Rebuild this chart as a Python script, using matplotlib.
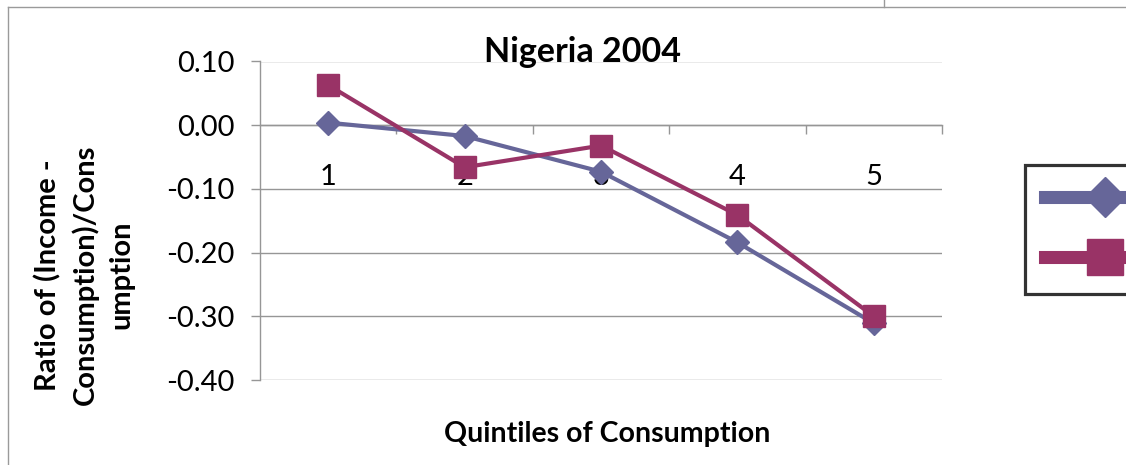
import matplotlib
matplotlib.use("Agg")
import matplotlib.pyplot as plt
from matplotlib.lines import Line2D
from matplotlib.ticker import FixedLocator

plt.rcParams['font.family'] = ['Lato', 'DejaVu Sans']

quintiles = [1, 2, 3, 4, 5]
series1 = [0.004, -0.017, -0.073, -0.184, -0.311]
series2 = [0.063, -0.066, -0.032, -0.141, -0.300]
series_names = ["Series1", "Series2"]
yticks = [0.10, 0.00, -0.10, -0.20, -0.30, -0.40]

blue = '#666699'
red = '#993366'
grid_c = '#969696'

W, H = 1126, 465
fig = plt.figure(figsize=(W / 100, H / 100), dpi=100)
ax = fig.add_axes([260 / W, 1 - 380 / H, (942 - 260) / W, (380 - 61.5) / H])

ax.plot(quintiles, series1, color=blue, lw=3.0, marker='D', ms=12.5,
        markeredgecolor=blue, markerfacecolor=blue, zorder=3)
ax.plot(quintiles, series2, color=red, lw=3.0, marker='s', ms=16.5,
        markeredgecolor=red, markerfacecolor=red, zorder=4)

ax.set_xlim(0.5, 5.5)
ax.set_ylim(-0.40, 0.10)
ax.set_yticks(yticks)
ax.set_yticklabels([f"{v:.2f}" for v in yticks])
ax.yaxis.grid(True, color=grid_c, lw=1.0)
ax.set_axisbelow(True)

for s in ['top', 'right']:
    ax.spines[s].set_visible(False)
ax.spines['left'].set_color(grid_c)
ax.spines['left'].set_linewidth(1.0)
ax.spines['bottom'].set_position(('data', 0))
ax.spines['bottom'].set_color(grid_c)
ax.spines['bottom'].set_linewidth(1.0)

ax.set_xticks(quintiles)
ax.set_xticklabels([str(q) for q in quintiles])
ax.xaxis.set_minor_locator(FixedLocator([1.5, 2.5, 3.5, 4.5, 5.5]))
ax.tick_params(axis='x', which='major', length=0, pad=28, labelsize=21)
ax.tick_params(axis='x', which='minor', length=6.5, width=1.0, color=grid_c, direction='out')
ax.tick_params(axis='y', length=6.5, width=1.0, color=grid_c, pad=12, labelsize=21)

fig.text(582 / W, 1 - 61.7 / H, "Nigeria 2004", ha='center', va='baseline',
         fontsize=24.5, fontweight='bold')
fig.text(607 / W, 1 - 442 / H, "Quintiles of Consumption", ha='center', va='baseline',
         fontsize=20.5, fontweight='bold')
fig.text(84 / W, 1 - 275 / H, "Ratio of (Income -\nConsumption)/Cons\numption",
         ha='center', va='center', rotation=90, fontsize=21, fontweight='bold',
         linespacing=1.45, multialignment='center')

# chart border (partial, as in reference)
fig.add_artist(Line2D([8 / W, 1], [1 - 7 / H, 1 - 7 / H], transform=fig.transFigure,
                      color='#9a9a9a', lw=1.0))
fig.add_artist(Line2D([8 / W, 8 / W], [0, 1 - 7 / H], transform=fig.transFigure,
                      color='#9a9a9a', lw=1.0))
fig.add_artist(Line2D([884 / W, 884 / W], [1 - 7 / H, 1], transform=fig.transFigure,
                      color='#9a9a9a', lw=1.0))

handles = [
    Line2D([], [], color=blue, lw=9.4, marker='D', ms=20, markerfacecolor=blue,
           markeredgecolor=blue),
    Line2D([], [], color=red, lw=9.4, marker='s', ms=26.5, markerfacecolor=red,
           markeredgecolor=red),
]
leg = fig.legend(handles, series_names, loc='upper left',
                 bbox_to_anchor=(1025 / W, 1 - 165 / H), bbox_transform=fig.transFigure,
                 borderaxespad=0, fontsize=24, frameon=True, fancybox=False,
                 borderpad=0.585, handlelength=3.6, labelspacing=0.9, handletextpad=0.8)
leg.get_frame().set_edgecolor('black')
leg.get_frame().set_linewidth(2.3)

fig.savefig("out.png", dpi=100)
